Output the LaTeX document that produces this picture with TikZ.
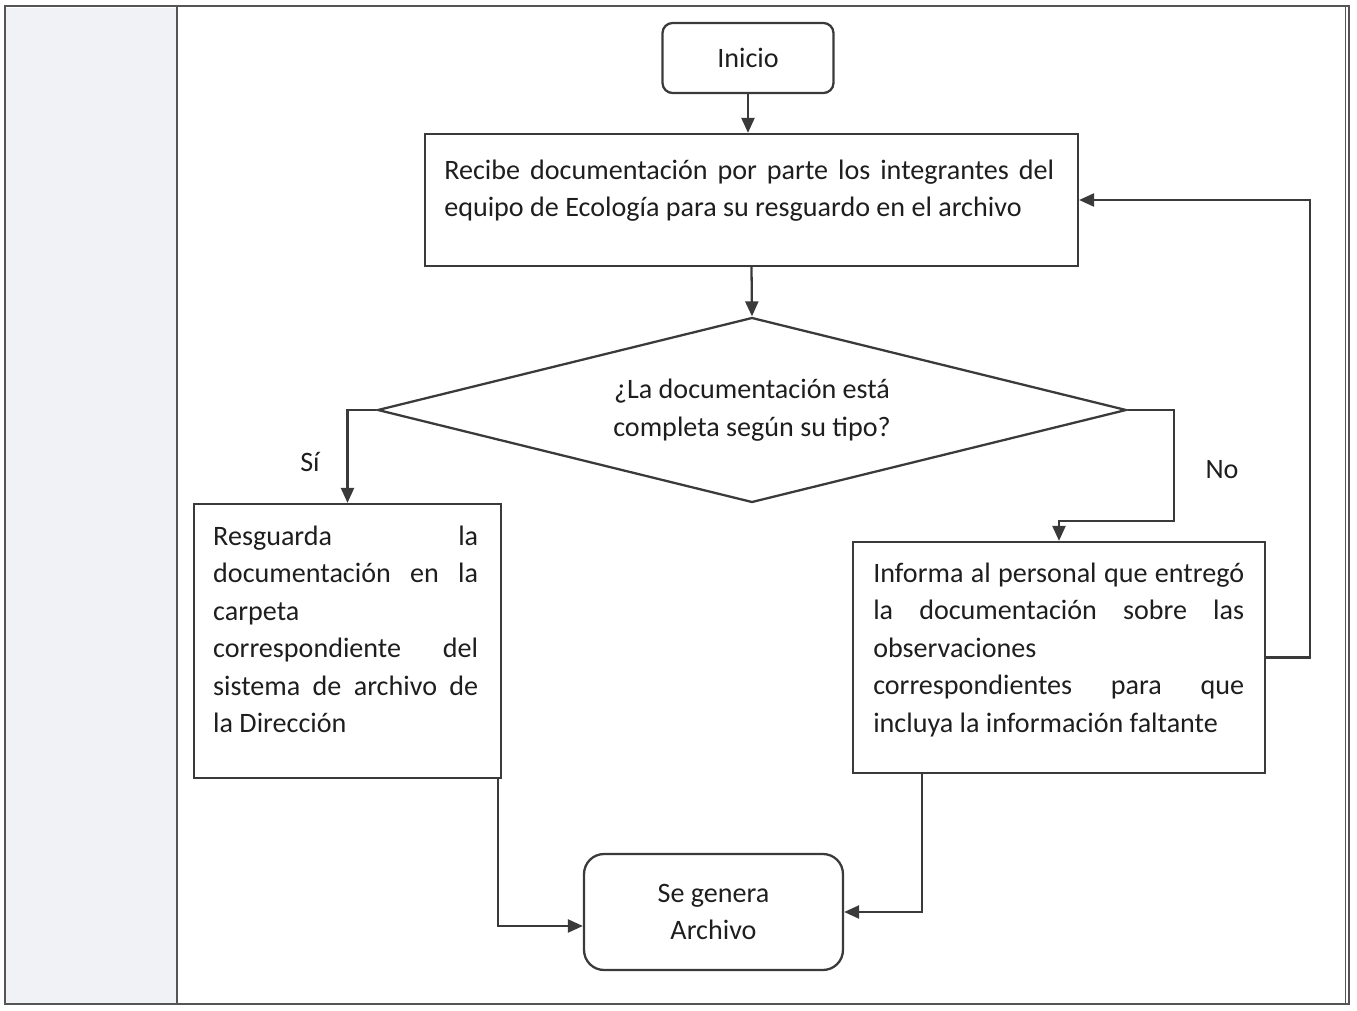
\documentclass[tikz,border=0pt]{standalone}
\usepackage{fontspec}
\setmainfont{Carlito}
\usepackage{tikz}
\usetikzlibrary{arrows.meta}
\usetikzlibrary{shapes.geometric}
\definecolor{linegray}{HTML}{3A3A3A}
\definecolor{framegray}{HTML}{555555}
\definecolor{stripfill}{HTML}{F0F2F5}
\definecolor{textgray}{HTML}{1E1E1E}
\tikzset{arrow/.style={-{Triangle[length=.3cm,width=.26cm]}, linegray, line width=1.3pt}}
\tikzset{terminal/.style={draw=linegray, line width=1.3pt, rounded corners=.2cm, align=center, text=textgray}}
\tikzset{process/.style={draw=linegray, line width=1.3pt}}
\tikzset{boxtext/.style={anchor=north west, inner sep=0pt, align=flush left, text=textgray}}
\tikzset{decision/.style={draw=linegray, line width=1.3pt, diamond, aspect=4, inner sep=0pt,
    minimum width=14.98cm, minimum height=3.7cm, align=center, text=textgray}}

\begin{document}
\begin{tikzpicture}[x=0.02cm,y=-0.02cm,font=\fontsize{16}{21.3}\selectfont]
        \useasboundingbox (0,0) rectangle (1357,1011);

        % margin strip and frame
        \fill[stripfill] (5,8) rectangle (177,1004);
        \draw[framegray, line width=1.2pt] (5,6) rectangle (1349,1004);
        \draw[framegray, line width=1.2pt] (177,6) -- (177,1004);
        \draw[framegray, line width=.5pt] (1345,6) -- (1345,1004);

        \node[terminal, minimum width=3.42cm, minimum height=1.4cm] (inicio) at (748,58) {Inicio};
        \node[process, minimum width=13.06cm, minimum height=2.64cm] (recibe) at (751.5,200) {};
        \node[decision] (completa) at (752,410)
            {¿La documentación está\\completa según su tipo?};
        \node[process, minimum width=6.14cm, minimum height=5.48cm] (resguarda) at (347.5,641) {};
        \node[process, minimum width=8.24cm, minimum height=4.62cm] (informa) at (1059,657.5) {};
        \node[terminal, minimum width=5.18cm, minimum height=2.32cm, rounded corners=.4cm] (archivo)
            at (713.5,912) {Se genera\\Archivo};

        \node[boxtext, text width=12.2cm] (recibe text) at ([shift={(20,20)}]recibe.north west)
            {\strut Recibe \hfill documentación \hfill por \hfill parte \hfill los \hfill integrantes \hfill del\\
             equipo de Ecología para su resguardo en el archivo};
        \node[boxtext, text width=5.3cm] (resguarda text) at ([shift={(20,16)}]resguarda.north west)
            {\strut Resguarda \hfill la\\
             documentación \hfill en \hfill la\\
             carpeta\\
             correspondiente \hfill del\\
             sistema \hfill de \hfill archivo \hfill de\\
             la Dirección};
        \node[boxtext, text width=7.42cm] (informa text) at ([shift={(21,15)}]informa.north west)
            {\strut Informa\hspace{.12em plus 1fill}al\hspace{.12em plus 1fill}personal\hspace{.12em plus 1fill}que\hspace{.12em plus 1fill}entregó\\
             la \hfill documentación \hfill sobre \hfill las\\
             observaciones\\
             correspondientes \hfill para \hfill que\\
             incluya la información faltante};

        \node[textgray] (si) at (310,462) {Sí};
        \node[textgray] (no) at (1222,470) {No};

        \coordinate (noturn) at (1174,521);
        \coordinate (loopturn) at (1310,657.5);

        \draw[arrow] (inicio.south) -- (inicio.south |- recibe.north);
        \draw[arrow] (recibe.south) -- (completa.north);
        \draw[arrow] (completa.west) -| (resguarda.north);
        \draw[arrow] (completa.east) -| (noturn) -| (informa.north);
        \draw[arrow] (informa.east) -- (loopturn) |- (recibe.east);
        \draw[arrow] ([xshift=-.08cm]resguarda.south east) |- ([yshift=-.28cm]archivo.west);
        \draw[arrow] ([xshift=1.4cm]informa.south west) |- (archivo.east);
    \end{tikzpicture}
\end{document}
